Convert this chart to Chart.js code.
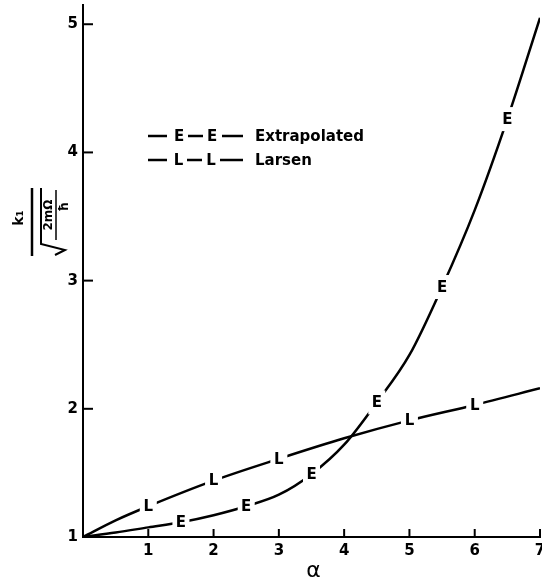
<!DOCTYPE html>
<html>
<head>
<meta charset="utf-8">
<script src="https://cdn.jsdelivr.net/npm/chart.js@4.4.0/dist/chart.umd.min.js"></script>
<style>
  html, body { margin: 0; padding: 0; background: #fff; }
  #wrap { width: 542px; height: 579px; }
</style>
</head>
<body>
<div id="wrap"><canvas id="chart"></canvas></div>
<script>
// Curve data (alpha vs k1 / sqrt(2mΩ/ħ))
const alphaE = [0, 0.5, 1, 1.5, 2, 2.5, 3, 3.5, 4, 4.5, 5, 5.5, 6, 6.5, 7];
const extrapolated = [1.00, 1.035, 1.075, 1.115, 1.17, 1.24, 1.33, 1.49, 1.72, 2.05, 2.42, 2.95, 3.55, 4.26, 5.05];

const alphaL = [0, 0.5, 1, 2, 3, 4, 5, 6, 7];
const larsen = [1.00, 1.13, 1.24, 1.44, 1.61, 1.77, 1.91, 2.03, 2.16];

// Where the curve letters sit
const eMarkX = [1.5, 2.5, 3.5, 4.5, 5.5, 6.5];
const eMarkY = [1.115, 1.24, 1.49, 2.05, 2.95, 4.26];
const lMarkX = [1, 2, 3, 5, 6];
const lMarkY = [1.24, 1.44, 1.61, 1.91, 2.03];

const xTicks = [1, 2, 3, 4, 5, 6, 7];
const yTicks = [1, 2, 3, 4, 5];

const FONT = "'DejaVu Sans', sans-serif";

const toPoints = (xs, ys) => xs.map((x, i) => ({ x: x, y: ys[i] }));

// Letters E / L on the curves, with a white gap behind them
const letterPlugin = {
  id: 'letters',
  afterDatasetsDraw(chart) {
    const ctx = chart.ctx;
    chart.data.datasets.forEach((ds, i) => {
      if (!ds.letter) return;
      const meta = chart.getDatasetMeta(i);
      meta.data.forEach(pt => {
        ctx.save();
        ctx.fillStyle = '#fff';
        ctx.fillRect(pt.x - 8.5, pt.y - 12, 17, 24);
        ctx.fillStyle = '#000';
        ctx.font = 'bold 15px ' + FONT;
        ctx.textAlign = 'center';
        ctx.textBaseline = 'middle';
        ctx.fillText(ds.letter, pt.x, pt.y + 1);
        ctx.restore();
      });
    });
  }
};

// Inward tick marks, legend text, axis titles
const decorPlugin = {
  id: 'decor',
  afterDraw(chart) {
    const ctx = chart.ctx;
    const xs = chart.scales.x, ys = chart.scales.y;
    const area = chart.chartArea;

    ctx.save();
    ctx.strokeStyle = '#000';
    ctx.fillStyle = '#000';
    ctx.lineWidth = 2;
    xTicks.forEach(v => {
      const px = xs.getPixelForValue(v);
      ctx.beginPath();
      ctx.moveTo(px, area.bottom);
      ctx.lineTo(px, area.bottom - 8);
      ctx.stroke();
    });
    yTicks.slice(1).forEach(v => {
      const py = ys.getPixelForValue(v);
      ctx.beginPath();
      ctx.moveTo(area.left, py);
      ctx.lineTo(area.left + 10, py);
      ctx.stroke();
    });

    // x axis title
    ctx.font = '22px ' + FONT;
    ctx.textAlign = 'center';
    ctx.textBaseline = 'alphabetic';
    ctx.fillText('α', (area.left + area.right) / 2 + 2, 577);

    // legend
    ctx.lineWidth = 2.5;
    const rows = [
      { y: 136, letter: 'E', text: 'Extrapolated', lx: [179, 212], dashes: [[148, 167], [188, 203], [222, 243]] },
      { y: 160, letter: 'L', text: 'Larsen', lx: [178.5, 211], dashes: [[148, 167], [187, 202], [220, 243]] }
    ];
    ctx.font = 'bold 15px ' + FONT;
    ctx.textBaseline = 'middle';
    rows.forEach(r => {
      r.dashes.forEach(d => {
        ctx.beginPath();
        ctx.moveTo(d[0], r.y);
        ctx.lineTo(d[1], r.y);
        ctx.stroke();
      });
      ctx.textAlign = 'center';
      r.lx.forEach(x => ctx.fillText(r.letter, x, r.y + 1));
      ctx.textAlign = 'left';
      ctx.fillText(r.text, 255, r.y + 1);
    });

    // y axis label: k1 over sqrt(2mΩ / ħ), rotated
    ctx.translate(38, 222);
    ctx.rotate(-Math.PI / 2);
    ctx.textAlign = 'center';
    ctx.textBaseline = 'middle';
    ctx.font = 'bold 14px ' + FONT;
    ctx.fillText('k₁', 4, -19);
    ctx.lineWidth = 2.5;
    ctx.beginPath();
    ctx.moveTo(-34, -6);
    ctx.lineTo(34, -6);
    ctx.stroke();
    ctx.lineWidth = 2;
    ctx.beginPath();
    ctx.moveTo(-33, 17);
    ctx.lineTo(-28, 27);
    ctx.lineTo(-22, 3);
    ctx.lineTo(34, 3);
    ctx.stroke();
    ctx.font = 'bold 12px ' + FONT;
    ctx.fillText('2mΩ', 7, 11);
    ctx.lineWidth = 1.5;
    ctx.beginPath();
    ctx.moveTo(-18, 18);
    ctx.lineTo(32, 18);
    ctx.stroke();
    ctx.fillText('ħ', 15, 27);
    ctx.restore();
  }
};

new Chart(document.getElementById('chart'), {
  type: 'line',
  data: {
    datasets: [
      {
        label: 'Extrapolated',
        data: toPoints(alphaE, extrapolated),
        borderColor: '#000',
        borderWidth: 2.5,
        pointRadius: 0,
        cubicInterpolationMode: 'monotone'
      },
      {
        label: 'Larsen',
        data: toPoints(alphaL, larsen),
        borderColor: '#000',
        borderWidth: 2.5,
        pointRadius: 0,
        cubicInterpolationMode: 'monotone'
      },
      {
        label: 'E marks',
        letter: 'E',
        data: toPoints(eMarkX, eMarkY),
        showLine: false,
        pointRadius: 0
      },
      {
        label: 'L marks',
        letter: 'L',
        data: toPoints(lMarkX, lMarkY),
        showLine: false,
        pointRadius: 0
      }
    ]
  },
  options: {
    responsive: true,
    maintainAspectRatio: false,
    animation: false,
    layout: { padding: { left: 0, right: 2, top: 5, bottom: 0 } },
    plugins: {
      legend: { display: false },
      tooltip: { enabled: false }
    },
    scales: {
      x: {
        type: 'linear',
        min: 0,
        max: 7,
        grid: { display: false, drawTicks: false },
        border: { display: true, color: '#000', width: 2 },
        afterBuildTicks: s => { s.ticks = xTicks.map(v => ({ value: v })); },
        ticks: {
          color: '#000',
          padding: 5,
          font: { family: FONT, size: 15, weight: 'bold' }
        },
        afterFit: s => {
          s.height = 42;
          s.paddingLeft = 0;
          s.paddingRight = 0;
        }
      },
      y: {
        min: 1,
        max: 5.15,
        grid: { display: false, drawTicks: false },
        border: { display: true, color: '#000', width: 2 },
        afterBuildTicks: s => { s.ticks = yTicks.map(v => ({ value: v })); },
        ticks: {
          color: '#000',
          padding: 5,
          font: { family: FONT, size: 15, weight: 'bold' }
        },
        afterFit: s => {
          s.width = 83;
          s.paddingTop = 0;
          s.paddingBottom = 0;
        }
      }
    }
  },
  plugins: [letterPlugin, decorPlugin]
});
</script>
</body>
</html>
